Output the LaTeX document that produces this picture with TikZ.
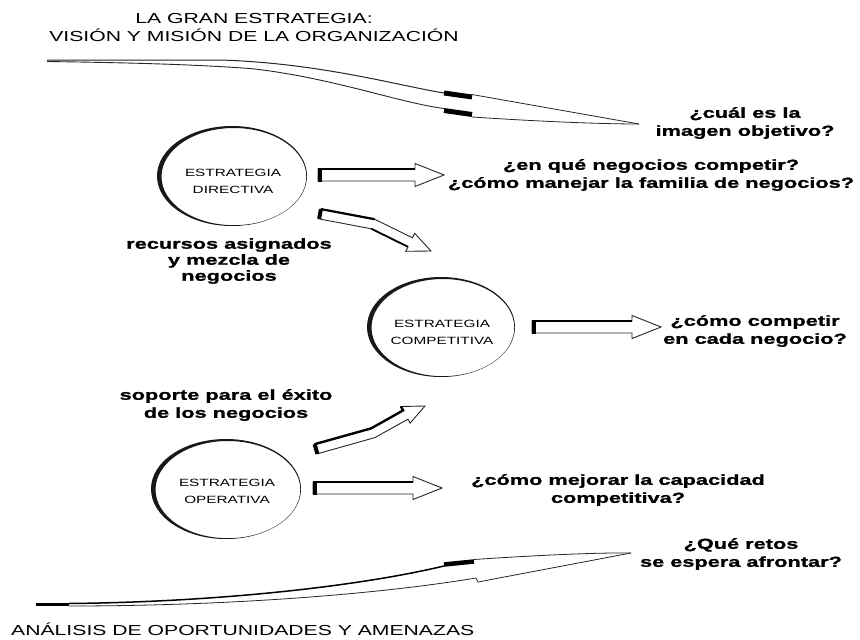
\documentclass[tikz,border=0pt]{standalone}
\usepackage{fontspec}
\setmainfont{Liberation Sans}[FakeStretch=1.46]
\newfontfamily\qf{Liberation Sans}[FakeStretch=1.5, FakeBold=1.2]
\usetikzlibrary{shapes.geometric}
\tikzset{
  qtext/.style={font=\qf\bfseries\fontsize{14.5}{18}\selectfont, align=center, inner sep=0pt},
  ttext/.style={font=\fontsize{14.5}{18.3}\selectfont, align=center, inner sep=0pt},
  ctext/.style={font=\fontsize{10.5}{17}\selectfont, align=center, inner sep=0pt},
  ln/.style={line width=0.8pt, draw=black!85},
  pics/harrow/.style={code={
    \draw[line width=0.9pt, line join=miter, draw=black!85, fill=white]
      (0,-6) -- ({#1-29},-6) -- ({#1-29},-11.5) -- (#1,0) -- ({#1-29},11.5) -- ({#1-29},6) -- (0,6) -- cycle;
    \draw[line width=2.2pt] (0,-6) -- ({#1-29},-6);
    \fill (0,-6.5) rectangle (4,6.5);
  }}
}
\newcommand\ringshape[4]{%
  \fill[black!90, even odd rule] (#1,#2) ellipse [x radius=#3pt, y radius=#4pt]
    ({#1+1.9},{#2+0.6}) ellipse [x radius={#3pt-2.6pt}, y radius={#4pt-1.4pt}];}
\begin{document}
\begin{tikzpicture}[x=1pt,y=-1pt]
\path[use as bounding box, fill=white] (0,0) rectangle (860,640);

% titles
\node[ttext] (title) at (254,27.5) {LA GRAN ESTRATEGIA:\\VISIÓN Y MISIÓN DE LA ORGANIZACIÓN};
\node[ttext, anchor=west] (bottom) at (11,629) {ANÁLISIS DE OPORTUNIDADES Y AMENAZAS};

% top long arrow
\coordinate (topstart) at (47,60);
\coordinate (toptip) at (639,124);
\draw[ln, line width=1pt] (topstart) -- (220,60) .. controls (320,63) and (400,86) .. (444,93);
\draw[ln, line width=0.9pt] (47,61.5) .. controls (150,63) and (200,65) .. (250,68.5) .. controls (330,77) and (400,103) .. (444,108.5);
\draw[line width=5pt] (444,93) -- (472,97);
\draw[line width=5pt] (444,110.5) -- (472,114.5);
\draw[ln] (472,94.5) -- (toptip);
\draw[ln] (472,117) .. controls (540,121.5) and (600,124) .. (toptip);

% bottom long arrow
\coordinate (botstart) at (36,604);
\coordinate (bottip) at (631,553);
\draw[line width=3pt] (botstart) -- (69,604);
\draw[line width=1.5pt] (69,603.5) .. controls (220,602) and (360,586) .. (444,566);
\draw[ln] (69,606) .. controls (230,606) and (380,594) .. (476,578);
\draw[line width=4.5pt] (444,564.5) -- (474,561.5);
\draw[ln] (474,559.5) .. controls (540,555) and (600,552.5) .. (bottip);
\draw[ln] (476,578) -- (478,582) -- (bottip);

% questions and labels
\node[qtext] (q1) at (745,123) {¿cuál es la\\imagen objetivo?};
\node[qtext] (q2) at (651,175) {¿en qué negocios competir?\\¿cómo manejar la familia de negocios?};
\node[qtext] (q3) at (755,331) {¿cómo competir\\en cada negocio?};
\node[qtext] (q4) at (618,490) {¿cómo mejorar la capacidad\\competitiva?};
\node[qtext] (q5) at (741,554) {¿Qué retos\\se espera afrontar?};
\node[qtext, font=\qf\bfseries\fontsize{14.5}{16}\selectfont] (l1) at (229,261) {recursos asignados\\y mezcla de\\negocios};
\node[qtext] (l2) at (226,405) {soporte para el éxito\\de los negocios};

% strategy ellipses
\ringshape{232}{176}{75}{50}
\node[ctext, ellipse, minimum width=150pt, minimum height=100pt] (c1) at (233,181.5) {ESTRATEGIA\\DIRECTIVA};
\ringshape{441}{327}{74}{50}
\node[ctext, ellipse, minimum width=148pt, minimum height=100pt] (c2) at (442,332.5) {ESTRATEGIA\\COMPETITIVA};
\ringshape{226}{489}{75}{50}
\node[ctext, ellipse, minimum width=150pt, minimum height=100pt] (c3) at (227,491.5) {ESTRATEGIA\\OPERATIVA};

% straight hollow arrows
\coordinate (a1) at (318,175);
\pic at (a1) {harrow=126};
\coordinate (a3) at (532,327);
\pic at (a3) {harrow=129};
\coordinate (a5) at (313,488);
\pic at (a5) {harrow=129};

% bent arrow: directiva -> competitiva
\coordinate (b2) at (320,214);
\draw[line width=0.9pt, draw=black!85, fill=white, line join=miter]
  (320.9,209.1) -- (374.6,219.2) -- (412.4,237.8) -- (414.6,233.3) -- (431,251)
  -- (405.8,251.3) -- (408.0,246.8) -- (371.4,228.8) -- (319.1,218.9) -- cycle;
\draw[line width=2.2pt] (320.9,209.1) -- (374.6,219.2);
\draw[line width=1.8pt] (371.4,228.8) -- (408.0,246.8);
\draw[line width=4pt] (320.9,209.1) -- (319.1,218.9);

% bent arrow: operativa -> up
\coordinate (b4) at (316,449);
\draw[line width=0.9pt, draw=black!85, fill=white, line join=miter]
  (314.6,444.2) -- (371.1,428.4) -- (403.1,410.4) -- (400.9,406.5) -- (425,406)
  -- (410.1,423.1) -- (407.9,419.2) -- (374.9,437.6) -- (317.4,453.8) -- cycle;
\draw[line width=2.4pt] (314.6,444.2) -- (371.1,428.4) -- (403.1,410.4) -- (400.9,406.5);
\draw[line width=4pt] (314.6,444.2) -- (317.4,453.8);
\end{tikzpicture}
\end{document}
